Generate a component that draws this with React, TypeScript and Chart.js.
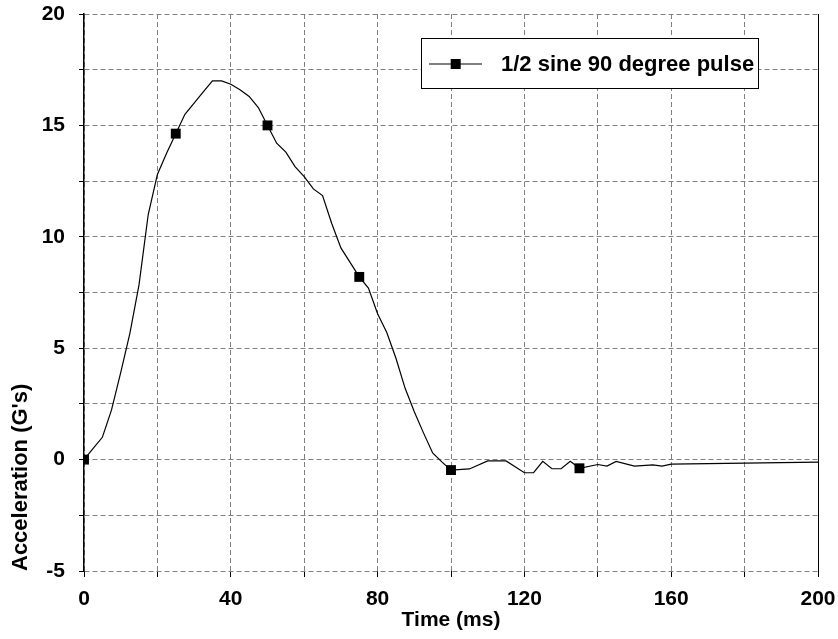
import React, { useEffect, useRef } from "react";
import { Chart, registerables } from "chart.js";

Chart.register(...registerables);

const seriesLabel = "1/2 sine 90 degree pulse";
const timeMs = [
  0, 2.5, 5, 7.5, 10, 12.5, 15, 17.5, 20, 22.5, 25, 27.5, 30, 32.5, 35, 37.5, 40,
  42.5, 45, 47.5, 50, 52.5, 55, 57.5, 60, 62.5, 65, 67.5, 70, 72.5, 75, 77.5, 80,
  82.5, 85, 87.5, 90, 92.5, 95, 97.5, 100, 105, 110, 115, 120, 122.5, 125, 127.5,
  130, 132.5, 135, 140, 142.5, 145, 150, 155, 157.5, 160, 200,
];
const accelG = [
  0, 0.5, 1.0, 2.23, 3.9, 5.67, 7.85, 11.0, 12.8, 13.75, 14.63, 15.5, 16.0, 16.5,
  17.0, 17.0, 16.85, 16.6, 16.3, 15.8, 15.0, 14.2, 13.8, 13.15, 12.7, 12.15, 11.85,
  10.6, 9.5, 8.85, 8.2, 7.7, 6.55, 5.7, 4.55, 3.2, 2.15, 1.2, 0.3, -0.1, -0.47,
  -0.42, -0.06, -0.06, -0.59, -0.59, -0.08, -0.41, -0.41, -0.08, -0.39, -0.22,
  -0.29, -0.08, -0.29, -0.24, -0.29, -0.2, -0.11,
];
const markerEvery = 10;
const xTickLabels = [0, 40, 80, 120, 160, 200];
const yTickLabels = [-5, 0, 5, 10, 15, 20];

const FONT = "'Liberation Sans', Arial, Helvetica, sans-serif";

const frameAndLegend = {
  id: "frameAndLegend",
  afterDatasetsDraw(chart: any) {
    const { ctx, chartArea: ca } = chart;
    ctx.save();
    // right border
    ctx.strokeStyle = "#000";
    ctx.lineWidth = 1;
    ctx.beginPath();
    ctx.moveTo(ca.right + 0.5, ca.top);
    ctx.lineTo(ca.right + 0.5, ca.bottom);
    ctx.stroke();
    // legend box
    const bx = Math.round(ca.left + 337) + 0.5;
    const by = Math.round(ca.top + 24) + 0.5;
    const bw = 337;
    const bh = 50;
    ctx.fillStyle = "#fff";
    ctx.fillRect(bx, by, bw, bh);
    ctx.strokeStyle = "#000";
    ctx.lineWidth = 1;
    ctx.strokeRect(bx, by, bw, bh);
    const ly = ca.top + 50;
    ctx.beginPath();
    ctx.lineWidth = 1.2;
    ctx.moveTo(ca.left + 345, ly);
    ctx.lineTo(ca.left + 398, ly);
    ctx.stroke();
    ctx.fillStyle = "#000";
    ctx.fillRect(ca.left + 371.7 - 5, ly - 5, 10, 10);
    ctx.font = `bold 22px ${FONT}`;
    ctx.textBaseline = "middle";
    ctx.textAlign = "left";
    ctx.fillText(chart.data.datasets[0].label, ca.left + 417, ly + 1);
    ctx.restore();
  },
};

export default function App() {
  const ref = useRef<HTMLCanvasElement | null>(null);
  useEffect(() => {
    if (!ref.current) return;
    const points = timeMs.map((t, i) => ({ x: t, y: accelG[i] }));
    const chart = new Chart(ref.current, {
      type: "line",
      data: {
        datasets: [
          {
            label: seriesLabel,
            data: points,
            borderColor: "#000",
            backgroundColor: "#000",
            borderWidth: 1.2,
            tension: 0,
            pointStyle: "rect",
            pointRadius: (c: any) => (c.dataIndex % markerEvery === 0 ? 7 : 0),
            pointBorderWidth: 0,
            pointBackgroundColor: "#000",
          },
        ],
      },
      options: {
        animation: false,
        responsive: false,
        events: [],
        layout: { padding: { left: 0, right: 20, top: 14, bottom: 0 } },
        plugins: { legend: { display: false }, tooltip: { enabled: false } },
        scales: {
          x: {
            type: "linear",
            min: 0,
            max: 200,
            afterFit: (s: any) => {
              s.height = 68;
              s.paddingLeft = 0;
              s.paddingRight = 0;
            },
            ticks: {
              stepSize: 20,
              autoSkip: false,
              maxRotation: 0,
              padding: 10,
              color: "#000",
              font: { family: FONT, size: 21, weight: "bold" },
              callback: (v: any) => (xTickLabels.includes(Number(v)) ? String(v) : ""),
            },
            grid: {
              color: "#808080",
              lineWidth: 1,
              tickLength: 6,
              tickColor: "#000",
              tickWidth: 1,
            },
            border: { display: false, dash: [5, 3] },
            title: {
              display: true,
              text: "Time (ms)",
              color: "#000",
              font: { family: FONT, size: 21, weight: "bold" },
              padding: { top: 0, bottom: 6 },
            },
          },
          y: {
            type: "linear",
            min: -5,
            max: 20,
            afterFit: (s: any) => {
              s.width = 84;
              s.paddingTop = 0;
              s.paddingBottom = 0;
            },
            ticks: {
              stepSize: 2.5,
              autoSkip: false,
              padding: 14,
              color: "#000",
              font: { family: FONT, size: 21, weight: "bold" },
              callback: (v: any) => (yTickLabels.includes(Number(v)) ? String(v) : ""),
            },
            grid: {
              color: "#808080",
              lineWidth: 1,
              tickLength: 5,
              tickColor: "#000",
              tickWidth: 1,
            },
            border: { display: true, color: "#000", width: 1.5, dash: [5, 3] },
            title: {
              display: true,
              text: "Acceleration (G's)",
              align: "start",
              color: "#000",
              font: { family: FONT, size: 22, weight: "bold" },
              padding: { top: 8, bottom: 0 },
            },
          },
        },
      },
      plugins: [frameAndLegend],
    });
    return () => chart.destroy();
  }, []);
  return (
    <div style={{ position: "fixed", left: 0, top: 0, width: 838, height: 639, background: "#fff" }}>
      <canvas ref={ref} width={838} height={639} style={{ display: "block" }} />
    </div>
  );
}
